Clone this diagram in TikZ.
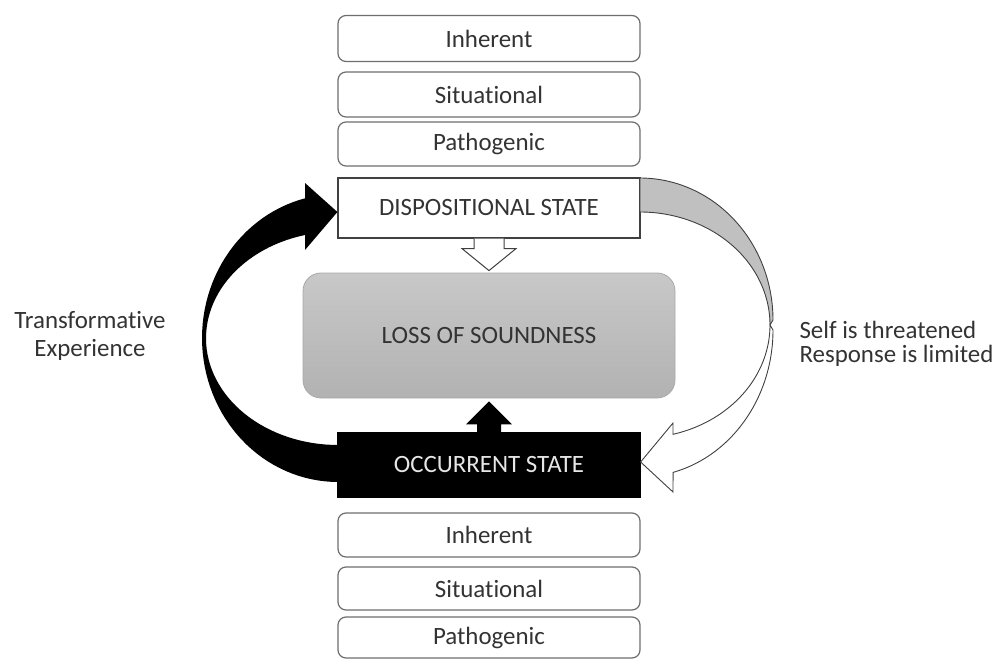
\documentclass[tikz,border=0pt]{standalone}
\usepackage{fontspec}
\setmainfont{Carlito}[Ligatures={NoCommon,NoDiscretionary}]
\usetikzlibrary{calc}
\definecolor{txt}{HTML}{333333}
\definecolor{edge}{HTML}{6E6E6E}
\definecolor{darkedge}{HTML}{404040}
\definecolor{lossedge}{HTML}{A8A8A8}
\definecolor{losstop}{HTML}{C8C8C8}
\definecolor{lossbot}{HTML}{B2B2B2}
\definecolor{backgray}{HTML}{C0C0C0}
\definecolor{occtxt}{HTML}{E6E6E6}
\begin{document}
\begin{tikzpicture}[x=1bp,y=-1bp,
  lbl/.style={font=\fontsize{25}{28}\selectfont, text=txt},
  smallbox/.style={lbl, draw=edge, line width=1.2bp, rounded corners=8bp, fill=white,
    minimum width=302bp, inner sep=0pt},
  statebox/.style={lbl, line width=1.2bp, minimum width=302bp, inner sep=0pt},
]
\useasboundingbox (0,0) rectangle (999,659);

% top category boxes
\node[smallbox, minimum height=46bp] (i1) at (489,38.5) {Inherent};
\node[smallbox, minimum height=45bp] (s1) at (489,94.5) {Situational};
\node[smallbox, minimum height=44bp] (p1) at (489,144) {Pathogenic};

% states
\node[statebox, draw=darkedge, fill=white, minimum height=60bp] (disp) at (489,208) {DISPOSITIONAL STATE};
\node[statebox, draw=black, fill=black, text=occtxt, minimum height=64bp] (occ) at (489,465) {OCCURRENT STATE};

% central box
\node[lbl, draw=lossedge, line width=0.8bp, rounded corners=18bp, top color=losstop, bottom color=lossbot,
  minimum width=372bp, minimum height=125bp, inner sep=0pt] (loss) at (489,335.5) {LOSS OF SOUNDNESS};

% bottom category boxes
\node[smallbox, minimum height=44bp] (i2) at (489,535) {Inherent};
\node[smallbox, minimum height=43bp] (s2) at (489,588.5) {Situational};
\node[smallbox, minimum height=41bp] (p2) at (489,637.5) {Pathogenic};

% hollow arrow: dispositional -> loss
\filldraw[fill=white, draw=darkedge, line width=1bp]
  ($(disp.south)+(-15,0)$) -- ($(disp.south)+(-15,10)$) -- ($(disp.south)+(-27,10)$)
  -- ($(disp.south)+(0,32)$) -- ($(disp.south)+(27,10)$) -- ($(disp.south)+(15,10)$)
  -- ($(disp.south)+(15,0)$);

% black arrow: occurrent -> loss
\fill[black]
  ($(occ.north)+(-12,1)$) -- ($(occ.north)+(-12,-8)$) -- ($(occ.north)+(-23,-8)$)
  -- ($(occ.north)+(0,-31)$) -- ($(occ.north)+(23,-8)$) -- ($(occ.north)+(12,-8)$)
  -- ($(occ.north)+(12,1)$) -- cycle;

% left curved black arrow: occurrent -> dispositional
\fill[black]
  plot[domain=90:255.96, samples=60, variable=\t] ({338+136*cos(\t)},{338+144*sin(\t)})
  -- (305,183) -- ($(disp.west)+(0,4)$) -- (305,250)
  -- plot[domain=255.52:90, samples=60, variable=\t] ({338+132*cos(\t)},{338.3+106.7*sin(\t)})
  -- cycle;

% right curved arrow: dispositional -> occurrent (gray back face)
\filldraw[fill=backgray, draw=darkedge, line width=0.9bp]
  plot[domain=-90:0, samples=60, variable=\t] ({640+133*cos(\t)},{320+142*sin(\t)})
  -- plot[domain=0:-90, samples=60, variable=\t] ({640+130*cos(\t)},{325+113*sin(\t)})
  -- cycle;
% front band with head
\filldraw[fill=white, draw=darkedge, line width=0.9bp]
  plot[domain=0:75.6, samples=60, variable=\t] ({640+133*cos(\t)},{330+147*sin(\t)})
  -- (673,492) -- ($(occ.east)+(0,-3)$) -- (673,423)
  -- plot[domain=75.3:0, samples=60, variable=\t] ({640+130*cos(\t)},{325+113*sin(\t)})
  -- cycle;

% side labels
\node[lbl, align=center, font=\fontsize{25}{28}\selectfont] (tl) at (90,336) {Transformative\\Experience};
\node[lbl, align=left, anchor=west, font=\fontsize{25}{24.5}\selectfont] (sl) at (796,344) {Self is threatened\\Response is limited};
\end{tikzpicture}
\end{document}
